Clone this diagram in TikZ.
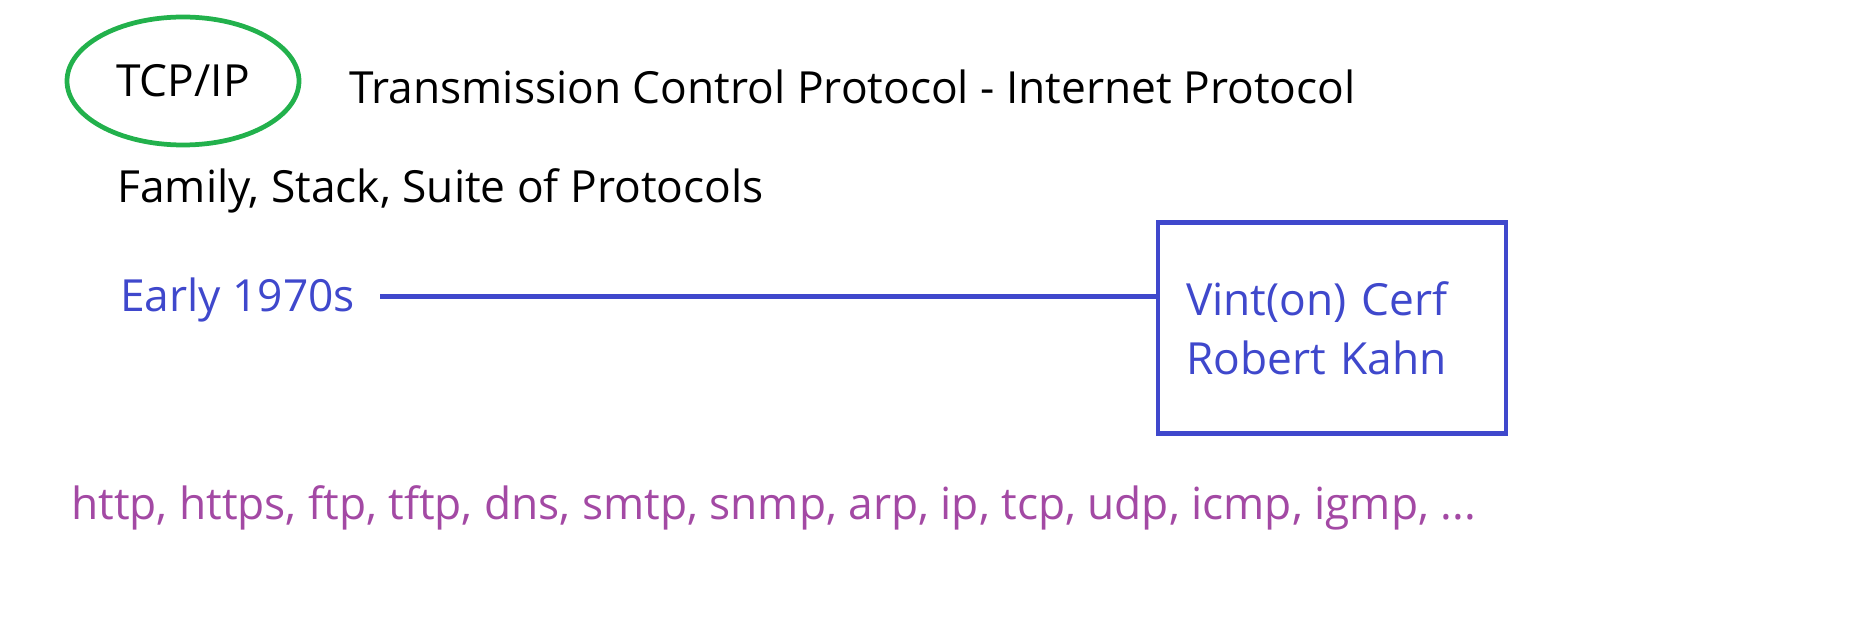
\documentclass[tikz,border=0pt]{standalone}
\usepackage{fontspec}
\setmainfont{Open Sans}
\usepackage{xcolor}
\usetikzlibrary{shapes.geometric}
\definecolor{paintgreen}{HTML}{22B14C}
\definecolor{paintblue}{HTML}{3F48CC}
\definecolor{paintpurple}{HTML}{A349A4}

\begin{document}
\begin{tikzpicture}[
      every node/.style={font=\fontsize{25.2}{33.5}\selectfont},
      label/.style={anchor=base west, inner sep=0pt},
      oval/.style={draw=paintgreen, ellipse, line width=2.7pt, minimum width=4.64cm, minimum height=2.56cm, inner sep=0pt},
      namebox/.style={draw=paintblue, line width=2.8pt, text=paintblue, minimum width=6.96cm, minimum height=4.22cm, text width=5.84cm, align=left, inner sep=0pt},
      line/.style={paintblue, line width=2.8pt}
    ]
      \useasboundingbox (0,0) rectangle (36.98,-12.62);
      \node[oval] (tcpip) at (3.66,-1.62) {TCP/IP};
      \node[label] (expansion) at (6.98,-2.08) {Transmission Control Protocol - Internet Protocol};
      \node[label] (family) at (2.34,-4.06) {Family, Stack, Suite of Protocols};
      \node[label, text=paintblue] (early) at (2.40,-6.22) {Early 1970s};
      \node[namebox] (pioneers) at (26.64,-6.56) {Vint(on) Cerf\\Robert Kahn};
      \node[label, text=paintpurple] (protocols) at (1.42,-10.38) {http, https, ftp, tftp, dns, smtp, snmp, arp, ip, tcp, udp, icmp, igmp, ...};

      \draw[line, shorten <=0.5cm] ([yshift=1.5pt]early.east) -- ([yshift=1.5pt]early.east -| pioneers.west);
    \end{tikzpicture}
\end{document}
